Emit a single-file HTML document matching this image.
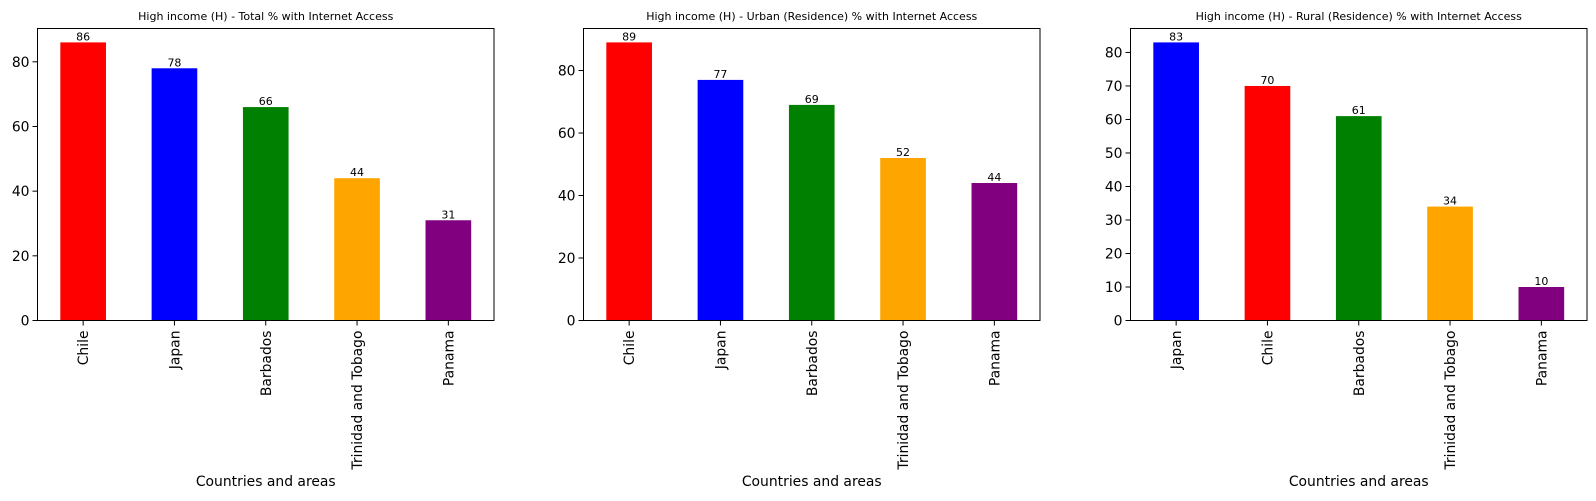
<!DOCTYPE html>
<html><head><meta charset="utf-8"><style>
body{margin:0;background:#fff;width:1596px;height:496px;overflow:hidden}
text{font-family:"DejaVu Sans","Liberation Sans",sans-serif;fill:#000}
</style></head><body>
<svg id="chart" width="1596" height="496" xmlns="http://www.w3.org/2000/svg"></svg>
<script>
const titles=["High income (H) - Total % with Internet Access","High income (H) - Urban (Residence) % with Internet Access","High income (H) - Rural (Residence) % with Internet Access"];
const cats1=["Chile","Japan","Barbados","Trinidad and Tobago","Panama"];
const vals1=[86,78,66,44,31];
const cols1=["red","blue","green","orange","purple"];
const cats2=["Chile","Japan","Barbados","Trinidad and Tobago","Panama"];
const vals2=[89,77,69,52,44];
const cols2=["red","blue","green","orange","purple"];
const cats3=["Japan","Chile","Barbados","Trinidad and Tobago","Panama"];
const vals3=[83,70,61,34,10];
const cols3=["blue","red","green","orange","purple"];
const ticks1=[0,20,40,60,80];
const ticks2=[0,20,40,60,80];
const ticks3=[0,10,20,30,40,50,60,70,80];
const svg=document.getElementById('chart');
const NS="http://www.w3.org/2000/svg";
function mk(tag,attrs,parent){const e=document.createElementNS(NS,tag);for(const k in attrs)e.setAttribute(k,attrs[k]);(parent||svg).appendChild(e);return e;}
const panels=[{x0:37.5,x1:494,cats:cats1,vals:vals1,cols:cols1,ticks:ticks1},
{x0:583.5,x1:1040,cats:cats2,vals:vals2,cols:cols2,ticks:ticks2},
{x0:1130.5,x1:1587,cats:cats3,vals:vals3,cols:cols3,ticks:ticks3}];
const yTop=28.5,yBot=320.5;
panels.forEach((p,pi)=>{
  const g=mk('g',{});
  
  
  const ymax=Math.max(...p.vals)*1.05;
  const y=v=>yBot-(v/ymax)*(yBot-yTop);
  const n=p.cats.length,step=(p.x1-p.x0)/n;
  const x=i=>p.x0+step*(i+0.5);
  p.vals.forEach((v,i)=>{
    const r=mk('rect',{x:x(i)-step/4,y:y(v),width:step/2,height:yBot-y(v),fill:p.cols[i]},g);
    
    
    const t=mk('text',{x:x(i),y:y(v)-2,'font-size':11,'text-anchor':'middle'},g);t.textContent=v;
    
    
    mk('line',{x1:x(i),x2:x(i),y1:yBot,y2:yBot+5,stroke:'#000'},g);
    const c=mk('text',{transform:`translate(${x(i)+5},${yBot+10}) rotate(-90)`,'font-size':13.9,'text-anchor':'end'},g);c.textContent=p.cats[i];
    
    
  });
  p.ticks.forEach(tv=>{
    mk('line',{x1:p.x0-5,x2:p.x0,y1:y(tv),y2:y(tv),stroke:'#000'},g);
    const t=mk('text',{x:p.x0-8,y:y(tv)+5,'font-size':13.9,'text-anchor':'end'},g);t.textContent=tv;
    
    
  });
  mk('rect',{x:p.x0,y:yTop,width:p.x1-p.x0,height:yBot-yTop,fill:'none',stroke:'#000','stroke-width':1},g);
  const tt=mk('text',{x:(p.x0+p.x1)/2,y:20,'font-size':11,'text-anchor':'middle'},g);tt.textContent=titles[pi];
  
  
  const xl=mk('text',{x:(p.x0+p.x1)/2,y:486,'font-size':13.9,'text-anchor':'middle'},g);xl.textContent="Countries and areas";
  
  
});
</script>
</body></html>
